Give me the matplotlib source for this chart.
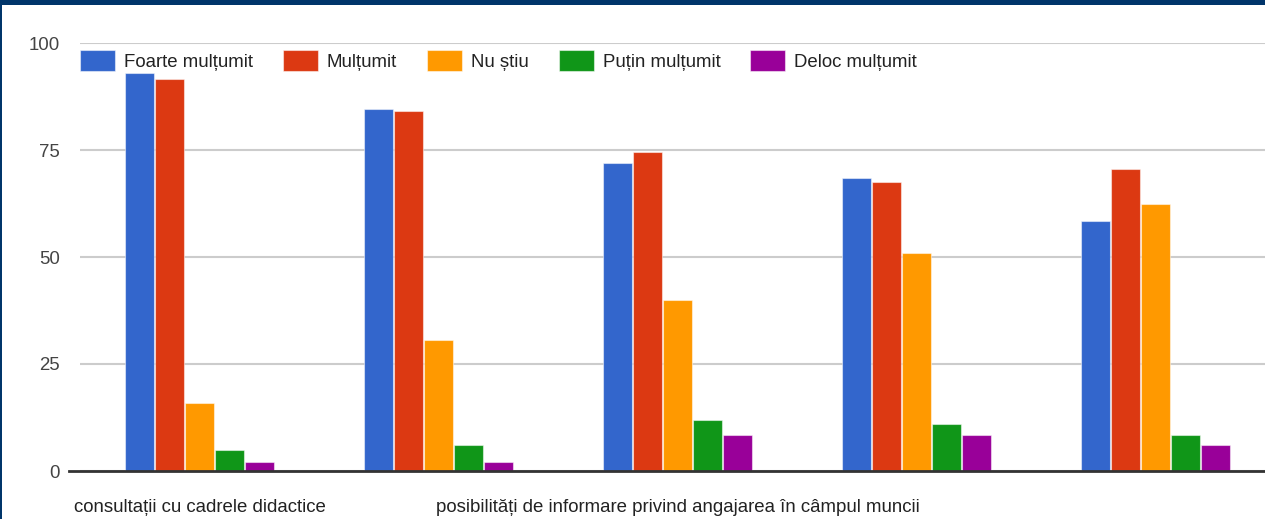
import matplotlib
matplotlib.use("Agg")
import matplotlib.pyplot as plt
import numpy as np
from matplotlib.patches import Rectangle

# ---- data ----
categories = ["consultații cu cadrele didactice", "", "posibilități de informare privind angajarea în câmpul muncii", "", ""]
series_names = ["Foarte mulțumit", "Mulțumit", "Nu știu", "Puțin mulțumit", "Deloc mulțumit"]
foarte = [93, 84.5, 72, 68.5, 58.5]
multumit = [91.5, 84, 74.5, 67.5, 70.5]
nu_stiu = [16, 30.5, 40, 51, 62.5]
putin = [5, 6, 12, 11, 8.5]
deloc = [2, 2, 8.5, 8.5, 6]
yticks = [0, 25, 50, 75, 100]

colors = ["#3366CC", "#DC3912", "#FF9900", "#109618", "#990099"]
series = [foarte, multumit, nu_stiu, putin, deloc]

plt.rcParams["font.family"] = ["Liberation Sans", "DejaVu Sans"]
FS = 13.4

W, H = 1265, 519
fig = plt.figure(figsize=(W / 100, H / 100), dpi=100)
fig.patch.set_facecolor("white")

left_px, right_px, top_px, bottom_px = 80, 1265, 43, 471
ax = fig.add_axes([left_px / W, (H - bottom_px) / H, (right_px - left_px) / W, (bottom_px - top_px) / H])

cat_step_px = 239.0
x = np.arange(len(categories))
bw = 0.118
step = 0.1255
for i, (vals, c, name) in enumerate(zip(series, colors, series_names)):
    ax.bar(x + (i - 2) * step, vals, width=bw, color=c, label=name,
           edgecolor=(1, 1, 1, 0.5), linewidth=0.8, zorder=3)

ax.set_xlim(-0.5, -0.5 + (right_px - left_px) / cat_step_px)
ax.set_ylim(0, 100)

for s in ax.spines.values():
    s.set_visible(False)

ax.set_yticks(yticks)
ax.set_yticklabels([str(v) for v in yticks])
ax.yaxis.grid(True, color="#cccccc", linewidth=1.5, zorder=0)
ax.tick_params(axis="y", length=0, pad=14.4, labelsize=FS, labelcolor="#444444")
ax.set_axisbelow(True)

shown = [i for i, c in enumerate(categories) if c]
ax.set_xticks(shown)
ax.set_xticklabels([categories[i] for i in shown])
ax.tick_params(axis="x", length=0, pad=20, labelsize=FS, labelcolor="#222222")

ax.axhline(0, xmin=-11 / (right_px - left_px), xmax=1, color="#333333",
           linewidth=2, clip_on=False, zorder=4)

leg = ax.legend(loc="upper left", bbox_to_anchor=(left_px / W, 1 - 50 / H),
                bbox_transform=fig.transFigure, ncol=5, frameon=False,
                fontsize=FS, handlelength=1.88, handleheight=1.35,
                handletextpad=0.49, columnspacing=1.6, borderpad=0, borderaxespad=0)
for t in leg.get_texts():
    t.set_color("#222222")
for p in leg.get_patches():
    p.set_edgecolor((1, 1, 1, 0.5))

fig.patches.append(Rectangle((0, 1 - 5 / H), 1, 5 / H, transform=fig.transFigure,
                             facecolor="#00356A", edgecolor="none", zorder=10))
fig.patches.append(Rectangle((0, 0), 2 / W, 1, transform=fig.transFigure,
                             facecolor="#00356A", edgecolor="none", zorder=10))

fig.savefig("out.png", dpi=100, facecolor="white")
